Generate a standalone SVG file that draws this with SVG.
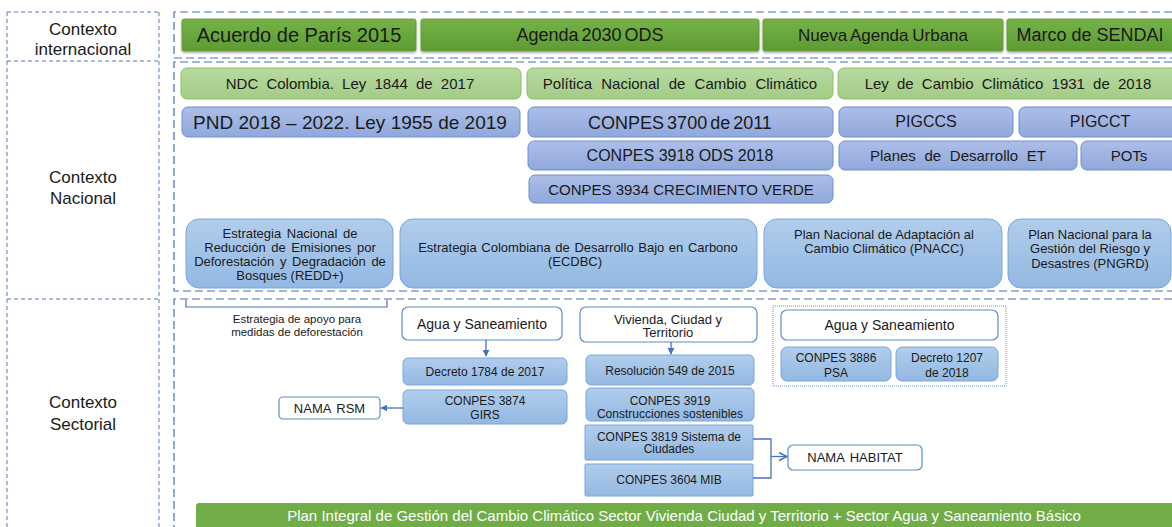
<svg xmlns="http://www.w3.org/2000/svg" width="1172" height="527" viewBox="0 0 1172 527">
<defs>
<linearGradient id="gDark" x1="0" y1="0" x2="0" y2="1"><stop offset="0" stop-color="#76b247"/><stop offset="1" stop-color="#5d9c32"/></linearGradient>
<linearGradient id="gLight" x1="0" y1="0" x2="0" y2="1"><stop offset="0" stop-color="#b8d9a1"/><stop offset="1" stop-color="#a3cc86"/></linearGradient>
<linearGradient id="gBlue" x1="0" y1="0" x2="0" y2="1"><stop offset="0" stop-color="#adbee8"/><stop offset="1" stop-color="#90a8dc"/></linearGradient>
<linearGradient id="gSky" x1="0" y1="0" x2="0" y2="1"><stop offset="0" stop-color="#b1cdec"/><stop offset="1" stop-color="#93b8e2"/></linearGradient>
<filter id="sh" x="-5%" y="-20%" width="110%" height="150%"><feDropShadow dx="0" dy="1.5" stdDeviation="1.2" flood-color="#000" flood-opacity="0.35"/></filter>
<marker id="tri" viewBox="0 0 10 10" refX="9" refY="5" markerWidth="7" markerHeight="7" orient="auto" markerUnits="userSpaceOnUse"><path d="M0,0 L10,5 L0,10 z" fill="#4472c4"/></marker>
<marker id="chev" viewBox="0 0 10 10" refX="9" refY="5" markerWidth="10" markerHeight="10" orient="auto" markerUnits="userSpaceOnUse"><path d="M1,1 L9,5 L1,9" fill="none" stroke="#4472c4" stroke-width="1.5"/></marker>
<style>
text{font-family:"Liberation Sans",Arial,sans-serif;fill:#1a1a1a;text-anchor:middle}
.frame{fill:none;stroke:#4a6fad;stroke-width:1.2;stroke-dasharray:8 4}
.lframe{fill:none;stroke:#5a7bb8;stroke-width:1;stroke-dasharray:4 3}
.dark{fill:url(#gDark);stroke:#5f9836;stroke-width:0.8}
.light{fill:url(#gLight);stroke:#8bbf6a;stroke-width:1}
.blue{fill:url(#gBlue);stroke:#6c8ed0;stroke-width:1}
.sky{fill:url(#gSky);stroke:#7aa7dc;stroke-width:1}
.white{fill:#fff;stroke:#5b8bd0;stroke-width:1.2}
.conn{fill:none;stroke:#4472c4;stroke-width:1.3}
.t20{font-size:20px}
.t18{font-size:18px}
.t19{font-size:19px}
.t17{font-size:17px}
.t16{font-size:16px}
.t15{font-size:15px}
.ws{word-spacing:4px}
.t14{font-size:14px}
.t13{font-size:13px}
.t12{font-size:12px}
.t11{font-size:11.5px}
</style>
</defs>

<g id="frames">
<line class="lframe" x1="7" y1="12" x2="159" y2="12"/>
<line class="lframe" x1="7" y1="12" x2="7" y2="527"/>
<line class="lframe" x1="159" y1="12" x2="159" y2="527"/>
<line class="lframe" x1="7" y1="61" x2="159" y2="61"/>
<line class="lframe" x1="7" y1="299" x2="159" y2="299"/>
<path class="frame" d="M1172,12 H174 V58 H1172"/>
<path class="frame" d="M1172,62 H174 V291 H1172"/>
<path class="frame" d="M1172,299 H174 V527"/>
</g>

<g id="labels">
<text class="t17" x="83" y="35">Contexto</text>
<text class="t17" x="83" y="55">internacional</text>
<text class="t17" x="83" y="183">Contexto</text>
<text class="t17" x="83" y="204">Nacional</text>
<text class="t17" x="83" y="408">Contexto</text>
<text class="t17" x="83" y="430">Sectorial</text>
</g>

<g id="acuerdo"><rect class="dark" filter="url(#sh)" x="182" y="19" width="234" height="32" rx="2"/><text class="t20" x="299" y="42">Acuerdo de París 2015</text></g>
<g id="agenda"><rect class="dark" filter="url(#sh)" x="421" y="19" width="338" height="32" rx="2"/><text class="t18" x="590" y="41" style="word-spacing:-2px">Agenda 2030 ODS</text></g>
<g id="nueva"><rect class="dark" filter="url(#sh)" x="763" y="19" width="240" height="32" rx="2"/><text class="t17" x="883" y="41" style="word-spacing:-1px">Nueva Agenda Urbana</text></g>
<g id="sendai"><rect class="dark" filter="url(#sh)" x="1007" y="19" width="170" height="32" rx="2"/><text class="t18" x="1090" y="41">Marco de SENDAI</text></g>

<g id="ndc"><rect class="light" x="181" y="68" width="340" height="31" rx="6"/><text class="t15 ws" x="350" y="88.5">NDC Colombia. Ley 1844 de 2017</text></g>
<g id="politica"><rect class="light" x="527" y="68" width="306" height="31" rx="6"/><text class="t15" x="680" y="88.5" style="word-spacing:5px">Política Nacional de Cambio Climático</text></g>
<g id="ley"><rect class="light" x="838" y="68" width="340" height="31" rx="6"/><text class="t15 ws" x="1008" y="88.5">Ley de Cambio Climático 1931 de 2018</text></g>

<g id="pnd"><rect class="blue" x="182" y="107" width="338" height="30" rx="6"/><text class="t19" x="350" y="129">PND 2018 – 2022. Ley 1955 de 2019</text></g>
<g id="conpes3700"><rect class="blue" x="528" y="107" width="305" height="30" rx="6"/><text class="t18" x="680" y="129" style="word-spacing:-2px">CONPES 3700 de 2011</text></g>
<g id="pigccs"><rect class="blue" x="839" y="107" width="174" height="30" rx="6"/><text class="t16" x="926" y="127">PIGCCS</text></g>
<g id="pigcct"><rect class="blue" x="1019" y="107" width="159" height="30" rx="6"/><text class="t16" x="1100" y="127">PIGCCT</text></g>

<g id="conpes3918"><rect class="blue" x="528" y="141" width="305" height="29" rx="6"/><text class="t16" x="680" y="161">CONPES 3918 ODS 2018</text></g>
<g id="planes"><rect class="blue" x="839" y="141" width="238" height="29" rx="6"/><text class="t15" x="958" y="160.5" style="word-spacing:4.5px">Planes de Desarrollo ET</text></g>
<g id="pots"><rect class="blue" x="1081" y="141" width="97" height="29" rx="6"/><text class="t15" x="1129" y="160.5">POTs</text></g>

<g id="conpes3934"><rect class="blue" x="529" y="175" width="304" height="28" rx="6"/><text class="t15" x="681" y="194.5">CONPES 3934 CRECIMIENTO VERDE</text></g>

<g id="redd"><rect class="sky" x="186" y="219" width="207" height="69" rx="13"/>
<text class="t13" x="290" y="238" style="word-spacing:2px">Estrategia Nacional de</text>
<text class="t13" x="290" y="252" style="word-spacing:2px">Reducción de Emisiones por</text>
<text class="t13" x="290" y="266" style="word-spacing:2px">Deforestación y Degradación de</text>
<text class="t13" x="290" y="280">Bosques (REDD+)</text></g>
<g id="ecdbc"><rect class="sky" x="400" y="219" width="357" height="69" rx="13"/>
<text class="t13" x="578" y="251.5" style="word-spacing:1px">Estrategia Colombiana de Desarrollo Bajo en Carbono</text>
<text class="t13" x="575" y="266">(ECDBC)</text></g>
<g id="pnacc"><rect class="sky" x="764" y="219" width="238" height="69" rx="13"/>
<text class="t13" x="884" y="238.5">Plan Nacional de Adaptación al</text>
<text class="t13" x="884" y="253">Cambio Climático (PNACC)</text></g>
<g id="pngrd"><rect class="sky" x="1008" y="219" width="163" height="69" rx="13"/>
<text class="t13" x="1090" y="238.5">Plan Nacional para la</text>
<text class="t13" x="1090" y="253">Gestión del Riesgo y</text>
<text class="t13" x="1090" y="267.5">Desastres (PNGRD)</text></g>

<g id="apoyo">
<path d="M186,300 V307 H387 V300" fill="none" stroke="#4a72b8" stroke-width="1.2"/>
<text class="t11" x="297" y="323">Estrategia de apoyo para</text>
<text class="t11" x="297" y="336">medidas de deforestación</text>
</g>

<g id="agua1"><rect class="white" x="402" y="307" width="160" height="33" rx="6"/><text class="t14" x="482" y="328.5">Agua y Saneamiento</text></g>
<g id="decreto1784"><rect class="sky" x="403" y="358" width="164" height="27" rx="5"/><text class="t12" x="485" y="376">Decreto 1784 de 2017</text></g>
<g id="conpes3874"><rect class="sky" x="403" y="390" width="164" height="34" rx="5"/><text class="t12" x="485" y="404.5">CONPES 3874</text><text class="t12" x="485" y="419">GIRS</text></g>
<g id="namarsm"><rect class="white" x="279" y="397" width="101" height="22" rx="4"/><text class="t13" x="329.5" y="412.5" style="word-spacing:2px">NAMA RSM</text></g>

<g id="vivienda"><rect class="white" x="580" y="307" width="177" height="35" rx="6"/><text class="t13" x="668" y="323.5">Vivienda, Ciudad y</text><text class="t13" x="668" y="337">Territorio</text></g>
<g id="res549"><rect class="sky" x="586" y="355" width="168" height="30" rx="5"/><text class="t12" x="670" y="374.5">Resolución 549 de 2015</text></g>
<g id="conpes3919"><rect class="sky" x="586" y="388" width="168" height="33" rx="5"/><text class="t12" x="670" y="405">CONPES 3919</text><text class="t12" x="670" y="418">Construcciones sostenibles</text></g>
<g id="conpes3819"><rect class="sky" x="585" y="425" width="168" height="35" rx="1"/><text class="t12" x="669" y="440.5">CONPES 3819 Sistema de</text><text class="t12" x="669" y="453">Ciudades</text></g>
<g id="conpes3604"><rect class="sky" x="585" y="464" width="168" height="32" rx="1"/><text class="t12" x="669" y="484">CONPES 3604 MIB</text></g>
<g id="namahabitat"><rect class="white" x="788" y="445" width="134" height="25" rx="5"/><text class="t13" x="855" y="462" style="word-spacing:2px">NAMA HABITAT</text></g>

<g id="agua2group">
<rect x="773" y="306" width="233" height="80" fill="none" stroke="#6d8fc9" stroke-width="1" stroke-dasharray="1 1"/>
<g id="agua2"><rect class="white" x="781" y="310" width="217" height="30" rx="6"/><text class="t14" x="889.5" y="330">Agua y Saneamiento</text></g>
<g id="conpes3886"><rect class="sky" x="781" y="347" width="110" height="34" rx="6"/><text class="t12" x="836" y="361.5">CONPES 3886</text><text class="t12" x="836" y="376.5">PSA</text></g>
<g id="decreto1207"><rect class="sky" x="896" y="347" width="102" height="34" rx="6"/><text class="t12" x="947" y="361.5">Decreto 1207</text><text class="t12" x="947" y="376.5">de 2018</text></g>
</g>

<g id="plan-integral"><rect x="196" y="503" width="980" height="30" rx="3" fill="#70ad47"/><text class="t15" x="684" y="521" style="fill:#fff">Plan Integral de Gestión del Cambio Climático Sector Vivienda Ciudad y Territorio + Sector Agua y Saneamiento Básico</text></g>

<g id="connectors">
<line class="conn" x1="486" y1="340" x2="486" y2="356" marker-end="url(#tri)"/>
<line class="conn" x1="671" y1="342" x2="671" y2="354" marker-end="url(#tri)"/>
<line class="conn" x1="403" y1="408" x2="381" y2="408" marker-end="url(#tri)"/>
<path class="conn" d="M753,439 H771 V478 H753"/>
<line class="conn" x1="771" y1="456.5" x2="787" y2="456.5" marker-end="url(#chev)"/>
</g>
</svg>
